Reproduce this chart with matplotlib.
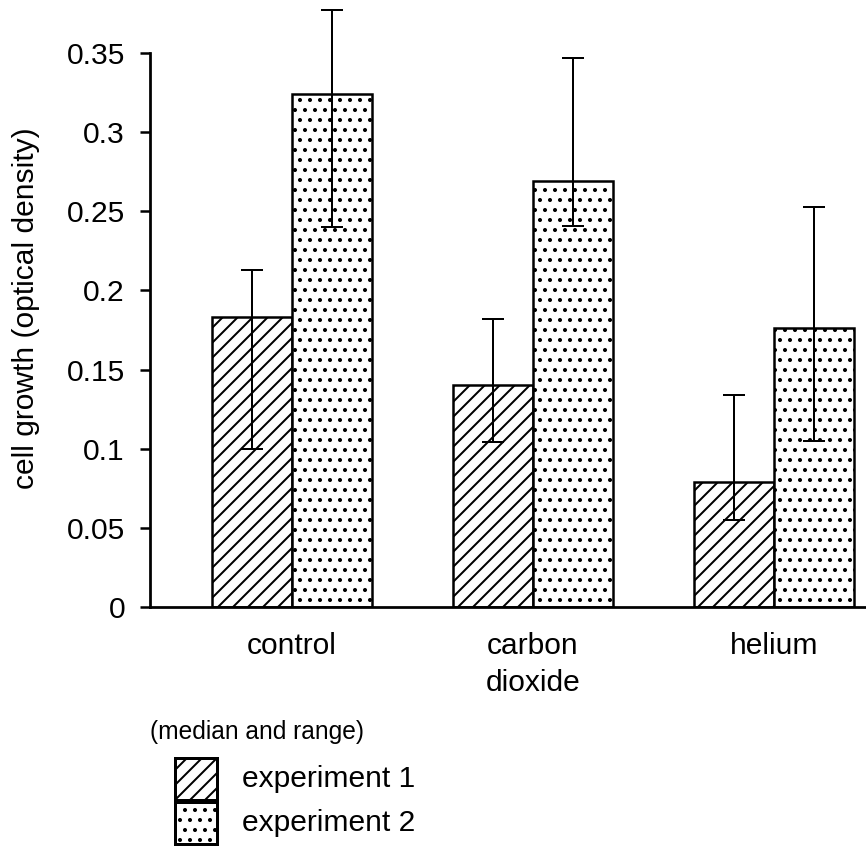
import numpy as np
import matplotlib
matplotlib.use('Agg')
import matplotlib.pyplot as plt
from matplotlib.patches import Rectangle

# data
groups = ['control', 'carbon\ndioxide', 'helium']
exp1 = [0.183, 0.140, 0.079]
exp1_low = [0.100, 0.104, 0.055]
exp1_high = [0.213, 0.182, 0.134]
exp2 = [0.324, 0.269, 0.176]
exp2_low = [0.240, 0.241, 0.105]
exp2_high = [0.377, 0.347, 0.253]
yticks = [0, 0.05, 0.1, 0.15, 0.2, 0.25, 0.3, 0.35]
yticklabels = ['0', '0.05', '0.1', '0.15', '0.2', '0.25', '0.3', '0.35']

plt.rcParams['font.family'] = ['Liberation Sans', 'DejaVu Sans']
plt.rcParams['hatch.linewidth'] = 0.8

HATCH1 = '////'
HATCH2 = '...'

DPI = 180
fig = plt.figure(figsize=(866 / DPI, 849 / DPI), dpi=DPI)
ax = fig.add_axes([150 / 866, 1 - 607 / 849, 1 - 150 / 866, 607 / 849])

x = np.arange(len(groups))
w = 0.332
ax.bar(x - w / 2, exp1, w, facecolor='white', edgecolor='black',
       linewidth=1.0, hatch=HATCH1, zorder=2)
ax.bar(x + w / 2, exp2, w, facecolor='white', edgecolor='black',
       linewidth=1.0, hatch=HATCH2, zorder=2)

e1 = np.array(exp1)
e2 = np.array(exp2)
ax.errorbar(x - w / 2, e1, yerr=[e1 - np.array(exp1_low), np.array(exp1_high) - e1],
            fmt='none', ecolor='black', elinewidth=0.8, capsize=4.4, capthick=0.8, zorder=3)
ax.errorbar(x + w / 2, e2, yerr=[e2 - np.array(exp2_low), np.array(exp2_high) - e2],
            fmt='none', ecolor='black', elinewidth=0.8, capsize=4.4, capthick=0.8, zorder=3)

ax.set_xlim(-0.589, 2.382)
ax.set_ylim(0, 607 / 1582.9)
ax.set_yticks(yticks)
ax.set_yticklabels(yticklabels, fontsize=12)
ax.set_xticks(x)
ax.set_xticklabels(groups, fontsize=12, linespacing=1.4)
ax.tick_params(axis='x', length=0, pad=10)
ax.tick_params(axis='y', length=4, width=1.0, pad=6)

for s in ['top', 'right']:
    ax.spines[s].set_visible(False)
ax.spines['left'].set_bounds(0, 0.35)
ax.spines['left'].set_linewidth(1.1)
ax.spines['bottom'].set_linewidth(1.1)
ax.patch.set_visible(False)

ax.set_ylabel('cell growth (optical density)', fontsize=12)
ax.yaxis.set_label_coords(-0.153, 0.4926)

# legend drawn by hand below the axes
fig.text(150 / 866, 1 - 732 / 849, '(median and range)', fontsize=9.8,
         ha='left', va='center')
box = 42
for i, (hatch, label) in enumerate([(HATCH1, 'experiment 1'), (HATCH2, 'experiment 2')]):
    top = 758 + i * (box + 2)
    fig.add_artist(Rectangle((175 / 866, 1 - (top + box) / 849), box / 866, box / 849,
                             transform=fig.transFigure, facecolor='white',
                             edgecolor='black', linewidth=1.2, hatch=hatch))
    fig.text(242 / 866, 1 - (top + box / 2) / 849, label, fontsize=12,
             ha='left', va='center')

fig.savefig('out.png', dpi=DPI)
